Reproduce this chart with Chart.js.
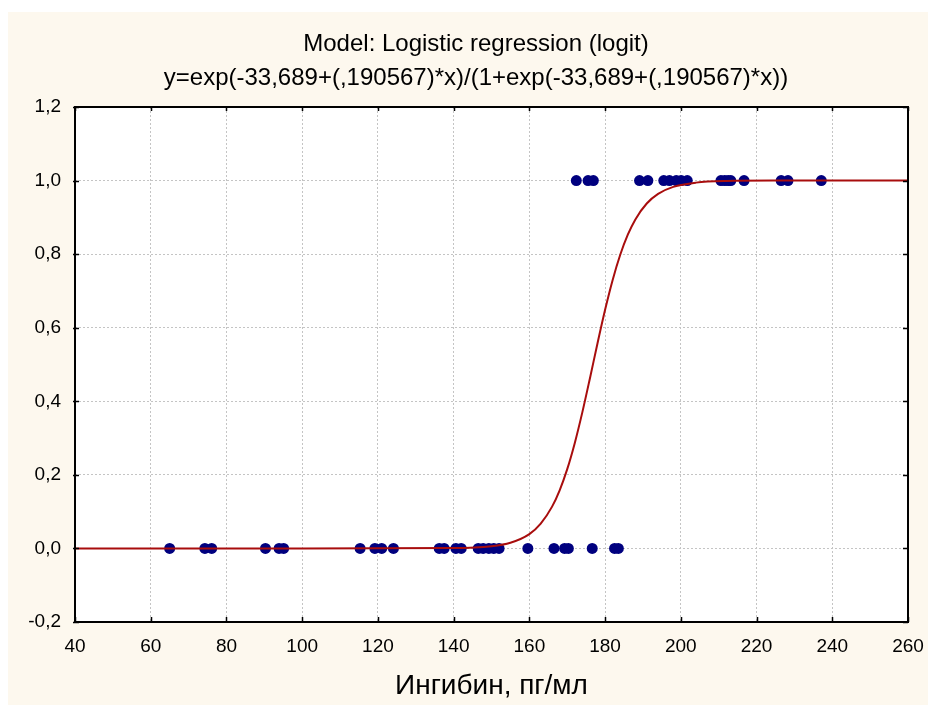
<!DOCTYPE html>
<html>
<head>
<meta charset="utf-8">
<script src="https://cdn.jsdelivr.net/npm/chart.js@4/dist/chart.umd.min.js"></script>
<style>
  html, body { margin: 0; padding: 0; background: #ffffff; }
  #wrap { width: 928px; height: 705px; }
</style>
</head>
<body>
<div id="wrap"><canvas id="c" width="928" height="705"></canvas></div>
<script>
// ---- data ----
const titleLine1 = 'Model: Logistic regression (logit)';
const titleLine2 = 'y=exp(-33,689+(,190567)*x)/(1+exp(-33,689+(,190567)*x))';
const xAxisTitle = 'Ингибин, пг/мл';

// observations with outcome 0
const x0Values = [65, 74.3, 76.1, 90.3, 93.9, 95.1, 115.3, 119.2, 121, 124.1,
  136.2, 137.5, 140.6, 142, 146.5, 147.8, 149.3, 150.6, 152,
  159.6, 166.5, 169.3, 170.3, 176.6, 182.5, 183.5];
// observations with outcome 1
const x1Values = [172.4, 175.5, 176.9, 189.1, 191.3, 195.5, 197, 198.8, 200.1, 201.7,
  210.6, 211.6, 212.5, 213.2, 216.7, 226.5, 228.3, 237.1];

// fitted curve
const curveX = [40, 100, 140, 150, 155, 160, 163, 166, 168, 170, 172, 174, 176, 178,
  180, 182, 184, 186, 188, 191, 194, 198, 204, 212, 225, 260];
const curveY = [0, 0, 0.0009, 0.006, 0.0155, 0.039, 0.0675, 0.1136, 0.158, 0.2155,
  0.2868, 0.3705, 0.4628, 0.5579, 0.6488, 0.73, 0.7983, 0.8528, 0.8945, 0.9376,
  0.9638, 0.9828, 0.9944, 0.9988, 0.9999, 1];

const xTickMin = 40, xTickMax = 260, xTickStep = 20;
const yTickMin = -0.2, yTickMax = 1.2, yTickStep = 0.2;

// ---- build datasets ----
const obsPoints = x0Values.map(v => ({x: v, y: 0})).concat(x1Values.map(v => ({x: v, y: 1})));
const curvePoints = curveX.map((v, i) => ({x: v, y: curveY[i]}));

const FONT = "'Liberation Sans', Arial, sans-serif";

const frame = {
  id: 'frame',
  beforeDraw(chart) {
    const {ctx, chartArea: a} = chart;
    ctx.save();
    ctx.fillStyle = '#ffffff';
    ctx.fillRect(0, 0, chart.width, chart.height);
    ctx.fillStyle = '#FDF8EE';
    ctx.fillRect(8, 12, chart.width - 8, chart.height - 12);
    ctx.fillStyle = '#ffffff';
    ctx.fillRect(a.left, a.top, a.right - a.left, a.bottom - a.top);
    ctx.restore();
  },
  afterDraw(chart) {
    const {ctx, chartArea: a} = chart;
    const xs = chart.scales.x, ys = chart.scales.y;
    ctx.save();
    ctx.strokeStyle = '#000000';
    ctx.lineWidth = 2;
    ctx.strokeRect(a.left, a.top, a.right - a.left, a.bottom - a.top);
    ctx.lineWidth = 1.5;
    ctx.beginPath();
    xs.ticks.forEach(t => {
      const px = Math.round(xs.getPixelForValue(t.value)) + 0.5;
      ctx.moveTo(px, a.bottom); ctx.lineTo(px, a.bottom - 5);
      ctx.moveTo(px, a.top); ctx.lineTo(px, a.top + 4);
    });
    ys.ticks.forEach(t => {
      const py = Math.round(ys.getPixelForValue(t.value)) + 0.5;
      ctx.moveTo(a.left - 2, py); ctx.lineTo(a.left + 4, py);
      ctx.moveTo(a.right, py); ctx.lineTo(a.right - 5, py);
    });
    ctx.stroke();
    ctx.restore();
  }
};

new Chart(document.getElementById('c'), {
  type: 'scatter',
  data: {
    datasets: [
      {
        type: 'line',
        data: curvePoints,
        borderColor: '#A80D0D',
        borderWidth: 2,
        pointRadius: 0,
        fill: false,
        cubicInterpolationMode: 'monotone',
        order: 0
      },
      {
        type: 'scatter',
        data: obsPoints,
        backgroundColor: '#00007F',
        borderColor: '#00007F',
        borderWidth: 0,
        pointRadius: 5.5,
        order: 1
      }
    ]
  },
  options: {
    responsive: false,
    animation: false,
    devicePixelRatio: 1,
    layout: { padding: { left: 24, right: 0, top: 0, bottom: 0 }, autoPadding: false },
    plugins: {
      legend: { display: false },
      tooltip: { enabled: false },
      title: {
        display: true,
        text: titleLine1,
        color: '#000000',
        font: { family: FONT, size: 24, weight: 'normal', lineHeight: 1.2 },
        padding: { top: 29.5, bottom: 0 }
      },
      subtitle: {
        display: true,
        text: titleLine2,
        color: '#000000',
        font: { family: FONT, size: 24, weight: 'normal', lineHeight: 1.2 },
        padding: { top: 5.2, bottom: 14.7 }
      }
    },
    scales: {
      x: {
        type: 'linear',
        min: xTickMin,
        max: xTickMax,
        afterFit(scale) { scale.height = 83; },
        ticks: {
          stepSize: xTickStep,
          color: '#000000',
          font: { family: FONT, size: 19 },
          padding: 0,
          maxRotation: 0
        },
        grid: { color: '#C4C4C4', lineWidth: 1, drawTicks: true, tickLength: 13, tickColor: 'rgba(0,0,0,0)' },
        border: { display: false, dash: [2, 2] },
        title: {
          display: true,
          text: xAxisTitle,
          color: '#000000',
          font: { family: FONT, size: 28 },
          padding: { top: 0, bottom: 2 }
        }
      },
      y: {
        type: 'linear',
        position: 'left',
        min: yTickMin,
        max: yTickMax,
        afterFit(scale) { scale.width = 51; },
        ticks: {
          stepSize: yTickStep,
          color: '#000000',
          font: { family: FONT, size: 19 },
          padding: 14,
          callback: v => {
            const r = Math.round(Number(v) * 10) / 10;
            return (r === 0 ? 0 : r).toFixed(1).replace('.', ',');
          }
        },
        grid: { color: '#C4C4C4', lineWidth: 1, drawTicks: false },
        border: { display: false, dash: [2, 2] }
      },
      yRightSpace: {
        type: 'linear',
        position: 'right',
        display: true,
        afterFit(scale) { scale.width = 20; },
        ticks: { display: false },
        grid: { display: false, drawTicks: false },
        border: { display: false }
      }
    }
  },
  plugins: [frame]
});
</script>
</body>
</html>
